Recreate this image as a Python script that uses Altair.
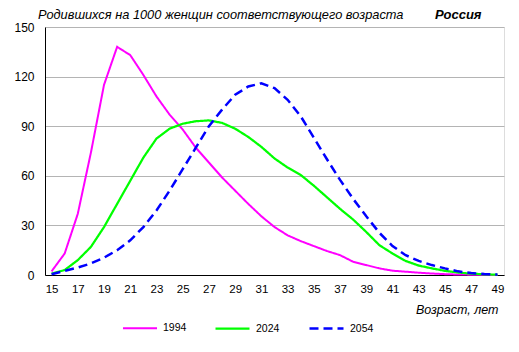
import altair as alt
import pandas as pd

ages = list(range(15, 50))
r1994 = [2.2, 13, 37, 74, 115, 138, 133, 121, 108, 97, 88, 77, 68, 59, 51, 43, 35.5,
         29, 24, 20.5, 17.5, 14.5, 12, 8, 6, 4, 2.6, 2, 1.4, 0.9, 0.5, 0.3, 0.2, 0.1, 0.05]
r2024 = [0.8, 3, 9, 17, 29, 43, 57, 71, 82.5, 88.5, 91.5, 93, 93.5, 92, 88.5, 83.5, 77.5,
         70.5, 65, 60.5, 54, 47, 40, 33.5, 26, 18, 13, 8.5, 5.7, 4, 2.5, 1.5, 0.8, 0.4, 0.2]
r2054 = [0.5, 2.5, 4.5, 7, 10.5, 15, 21, 29, 39, 51, 64, 77, 90, 100, 109, 114, 116,
         113, 106, 96, 83, 70, 57.5, 46, 35.5, 25.5, 17.5, 12, 8.5, 6, 4, 2.2, 1.2, 0.6, 0.3]
series = ["1994", "2024", "2054"]
colors = ["#FF00FF", "#00FF00", "#0000FF"]
y_ticks = [0, 30, 60, 90, 120, 150]
x_ticks = list(range(15, 50, 2))
title_text = ["Родившихся на 1000 женщин соответствующего возраста"]
country = ["Россия"]
x_title = "Возраст, лет"

rows = []
for s, vals in zip(series, [r1994, r2024, r2054]):
    for a, v in zip(ages, vals):
        rows.append({"series": s, "age": a, "value": v})
df = pd.DataFrame(rows)

W, H = 459, 248
FONT = "Liberation Sans"

leg = alt.Legend(orient="none", legendX=77, legendY=283, direction="horizontal",
                 title=None, symbolType="stroke", symbolSize=1156, labelFontSize=10.5,
                 labelOffset=5, columnPadding=24, padding=0, labelFont=FONT,
                 labelColor="black")

lines = alt.Chart(df).mark_line().encode(
    x=alt.X("age:Q",
            scale=alt.Scale(domain=[14.5, 49.5], nice=False, zero=False),
            axis=alt.Axis(values=x_ticks, title=x_title, grid=False, ticks=False,
                          domainColor="black", labelPadding=8, labelFontSize=11.5,
                          labelColor="black", labelFont=FONT,
                          titleFontStyle="italic", titleFontWeight="normal",
                          titleFontSize=12.5, titleFont=FONT, titleColor="black",
                          titleX=W - 6, titleY=38, titleAlign="right",
                          titleBaseline="alphabetic", labelFlush=False)),
    y=alt.Y("value:Q",
            scale=alt.Scale(domain=[0, 150], nice=False),
            axis=alt.Axis(values=y_ticks, title=None, ticks=False, labelPadding=11,
                          grid=True, gridColor="#b4b4b4", domainColor="black",
                          labelFontSize=12, labelColor="black", labelFont=FONT)),
    color=alt.Color("series:N", scale=alt.Scale(domain=series, range=colors), legend=leg),
    strokeDash=alt.StrokeDash("series:N",
                              scale=alt.Scale(domain=series, range=[[1, 0], [1, 0], [9, 5]]),
                              legend=leg),
    strokeWidth=alt.StrokeWidth("series:N",
                                scale=alt.Scale(domain=series, range=[2, 2.5, 4]),
                                legend=leg),
)

title_mark = alt.Chart(pd.DataFrame({"t": title_text})).mark_text(
    fontStyle="italic", fontWeight="normal", fontSize=12.8, align="left",
    baseline="alphabetic", font=FONT, color="black"
).encode(x=alt.value(-7), y=alt.value(-8.5), text="t:N")

country_text = alt.Chart(pd.DataFrame({"t": country})).mark_text(
    fontStyle="italic", fontWeight="bold", fontSize=13, align="left",
    baseline="alphabetic", font=FONT, color="black"
).encode(x=alt.value(390), y=alt.value(-8.5), text="t:N")

chart = alt.layer(lines, title_mark, country_text).properties(
    width=W, height=H,
    autosize=alt.AutoSizeParams(type="none"),
    padding={"left": 45, "top": 27, "right": 15, "bottom": 77},
).configure_view(stroke="#888888", strokeWidth=1).configure(background="white")

chart.save("out.html", embed_options={"renderer": "svg", "actions": False})
